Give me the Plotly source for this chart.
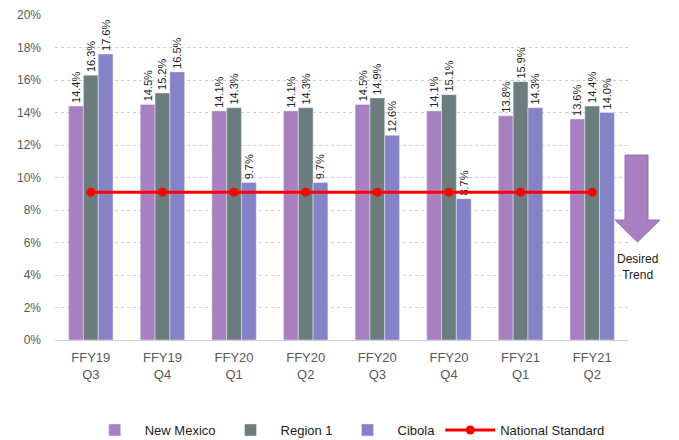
import plotly.graph_objects as go

categories = ["FFY19<br>Q3", "FFY19<br>Q4", "FFY20<br>Q1", "FFY20<br>Q2",
              "FFY20<br>Q3", "FFY20<br>Q4", "FFY21<br>Q1", "FFY21<br>Q2"]
new_mexico = [14.4, 14.5, 14.1, 14.1, 14.5, 14.1, 13.8, 13.6]
region_1 = [16.3, 15.2, 14.3, 14.3, 14.9, 15.1, 15.9, 14.4]
cibola = [17.6, 16.5, 9.7, 9.7, 12.6, 8.7, 14.3, 14.0]
national_standard = [9.1] * 8

FONT = "Liberation Sans"
fig = go.Figure()
for name, vals, color in [("New Mexico", new_mexico, "#A880C2"),
                          ("Region 1", region_1, "#6C7D7E"),
                          ("Cibola", cibola, "#8682C8")]:
    fig.add_trace(go.Bar(
        x=categories, y=vals, name=name, marker_color=color,
        text=[f"{v:.1f}%" for v in vals], textposition="outside",
        textangle=-90, constraintext="none", cliponaxis=False,
        textfont=dict(family=FONT, size=11, color="#222222"),
    ))

fig.add_trace(go.Scatter(
    x=categories, y=national_standard, name="National Standard",
    mode="lines+markers", line=dict(color="#FF0000", width=3),
    marker=dict(color="#FF0000", size=9),
))

# Desired trend arrow (paper coordinates)
x0, x1, hx0, hx1, xt = 0.9948, 1.0349, 0.9773, 1.0558, 1.0166
yt, yh, ytip = 0.5692, 0.3692, 0.3015
path = (f"M {x0},{yt} L {x1},{yt} L {x1},{yh} L {hx1},{yh} L {xt},{ytip} "
        f"L {hx0},{yh} L {x0},{yh} Z")
fig.add_shape(type="path", path=path, xref="paper", yref="paper",
              fillcolor="#A880C2", line=dict(color="#9670B0", width=1))
fig.add_annotation(text="Desired<br>Trend", xref="paper", yref="paper",
                   x=xt, y=0.225, showarrow=False, xanchor="center",
                   yanchor="middle",
                   font=dict(family=FONT, size=12, color="#222222"))

# the page body adds an 8px offset; sizes/margins compensate for it
fig.update_layout(
    width=671, height=432,
    margin=dict(l=47, r=51, t=7, b=100, autoexpand=False),
    paper_bgcolor="white", plot_bgcolor="white",
    barmode="group", bargap=0.38, bargroupgap=0,
    font=dict(family=FONT, size=11, color="#595959"),
    legend=dict(orientation="h", x=0.51, xanchor="center", y=-0.277,
                yanchor="middle", font=dict(family=FONT, size=13, color="#222222"),
                traceorder="normal", itemwidth=50),
    showlegend=True,
)
fig.update_yaxes(range=[0, 20], dtick=2, ticksuffix="%", showgrid=True,
                 gridcolor="#CFCFCF", griddash="dot", zeroline=True,
                 zerolinecolor="#CFCFCF", zerolinewidth=1, automargin=False,
                 ticklabelstandoff=13,
                 tickfont=dict(family=FONT, size=12, color="#595959"))
fig.update_xaxes(showgrid=False, tickfont=dict(family=FONT, size=13, color="#595959"),
                 showline=False, ticks="", automargin=False, ticklabelstandoff=8)

fig.write_html("out.html")
